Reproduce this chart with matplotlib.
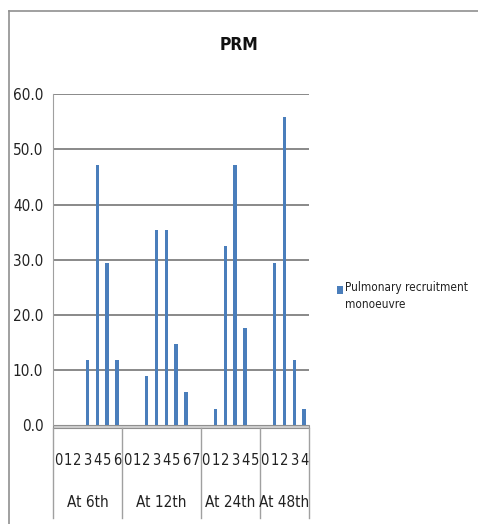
import matplotlib.pyplot as plt
import matplotlib.transforms as mtransforms
from matplotlib.lines import Line2D
from matplotlib.patches import Rectangle

plt.rcParams['font.family'] = ['DejaVu Sans']
plt.rcParams['font.stretch'] = 'condensed'

# data
groups = ['At 6th', 'At 12th', 'At 24th', 'At 48th']
cats_6 = ['0', '1', '2', '3', '4', '5', '6']
cats_12 = ['0', '1', '2', '3', '4', '5', '6', '7']
cats_24 = ['0', '1', '2', '3', '4', '5']
cats_48 = ['0', '1', '2', '3', '4']
vals_6 = [0, 0, 0, 11.8, 47.1, 29.4, 11.8]
vals_12 = [0, 0, 8.8, 35.3, 35.3, 14.7, 5.9, 0]
vals_24 = [0, 2.9, 32.4, 47.1, 17.6, 0]
vals_48 = [0, 29.4, 55.9, 11.8, 2.9]

cats = [cats_6, cats_12, cats_24, cats_48]
vals = [vals_6, vals_12, vals_24, vals_48]

labels = [c for cl in cats for c in cl]
values = [v for vl in vals for v in vl]
xs = list(range(len(values)))

blue = '#4a7ebb'

fig = plt.figure(figsize=(4.78, 5.24), dpi=100)
ax = fig.add_axes([53 / 478, 1 - 425 / 524, 256 / 478, 330.7 / 524])

ax.bar(xs, values, width=0.35, color=blue, zorder=3)
ax.set_xlim(-0.5, len(values) - 0.5)
ax.set_ylim(0, 60)
ax.set_yticks(range(0, 61, 10))
ax.set_yticklabels(['%.1f' % t for t in range(0, 61, 10)], fontsize=11, color='#222222')
ax.tick_params(axis='y', length=0, pad=7)
ax.set_xticks(xs)
ax.set_xticklabels(labels, fontsize=10.5, color='#222222')
ax.tick_params(axis='x', length=0, pad=20)

for t in range(10, 61, 10):
    ax.axhline(t, color='#808080', lw=1.3, zorder=1)

for s in ['top', 'right', 'bottom']:
    ax.spines[s].set_visible(False)
ax.spines['left'].set_color('#a0a0a0')

# floor of the 3d chart
trans = mtransforms.blended_transform_factory(ax.transData, ax.transAxes)
ax.add_patch(Rectangle((-0.5, -0.009), len(values), 0.009, transform=trans,
                       facecolor='#d0d0d0', edgecolor='#909090', lw=0.8, clip_on=False, zorder=2))

# group separators and labels
bounds = [-0.5]
for cl in cats:
    bounds.append(bounds[-1] + len(cl))
for b in bounds:
    ax.add_line(Line2D([b, b], [-0.009, -0.28], transform=trans, color='#a0a0a0',
                       lw=1, clip_on=False))
for i, g in enumerate(groups):
    mid = (bounds[i] + bounds[i + 1]) / 2
    ax.text(mid, -0.235, g, transform=trans, ha='center', va='center',
            fontsize=11, color='#222222')

fig.text(239 / 478, 1 - 45 / 524, 'PRM', ha='center', va='center',
         fontsize=12.5, fontweight='bold', color='#111111')

# legend
fig.patches.append(Rectangle((337 / 478, 1 - 294 / 524), 6 / 478, 8 / 524,
                             transform=fig.transFigure, facecolor=blue, edgecolor='none'))
fig.text(345 / 478, 1 - 281 / 524, 'Pulmonary recruitment\nmonoeuvre', ha='left', va='top',
         fontsize=8.5, color='#222222', linespacing=1.45)

# chart border
fig.add_artist(Line2D([9 / 478, 9 / 478], [0, 1 - 11 / 524], transform=fig.transFigure,
                      color='#909090', lw=1.2))
fig.add_artist(Line2D([9 / 478, 1], [1 - 11 / 524, 1 - 11 / 524], transform=fig.transFigure,
                      color='#909090', lw=1.2))

fig.savefig('out.png', dpi=100)
